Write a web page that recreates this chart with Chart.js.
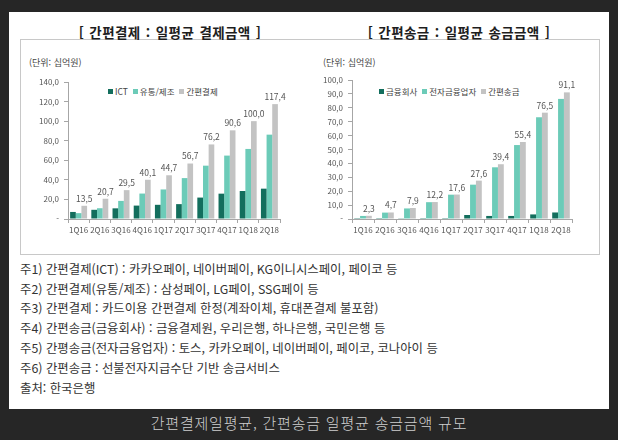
<!DOCTYPE html>
<html lang="ko">
<head>
<meta charset="UTF-8">
<title>간편결제 · 간편송금 일평균 금액</title>
<script src="https://cdn.jsdelivr.net/npm/chart.js@4.4.1/dist/chart.umd.min.js"></script>
<style>
  body { margin:0; width:618px; height:440px; background:#262626; position:relative; overflow:hidden;
         font-family:"Noto Sans CJK KR", "Noto Sans", sans-serif; }
  #panel { position:absolute; left:9px; top:12px; width:600px; height:397px; background:#fff; }
  #box { position:absolute; left:20px; top:39px; width:578px; height:214px; border:1px solid #c8c8c8; }
  .title { position:absolute; top:22px; height:20px; line-height:20px; width:300px; text-align:center;
           font-size:13.5px; font-weight:bold; color:#1e1e1e; letter-spacing:0.4px; word-spacing:1px; }
  .unit { position:absolute; top:56px; font-size:9px; color:#444; line-height:14px; }
  .legend { position:absolute; top:85px; display:flex; gap:5px; font-size:8.5px; color:#444; line-height:12px; }
  .legend span { display:flex; align-items:center; }
  .legend i { display:inline-block; width:5px; height:5px; margin-right:2px; }
  canvas { position:absolute; }
  .note { position:absolute; left:20px; font-size:12.4px; color:#333; line-height:18px; white-space:nowrap; }
  #caption { position:absolute; left:0; width:618px; top:412px; text-align:center; font-size:15px;
             color:#cfcfcf; letter-spacing:0.8px; font-weight:300; }
</style>
</head>
<body>
<div id="panel"></div>
<div id="box"></div>

<div class="title" style="left:20px">[ 간편결제 : 일평균 결제금액 ]</div>
<div class="title" style="left:309px">[ 간편송금 : 일평균 송금금액 ]</div>
<div class="unit" style="left:29px">(단위: 십억원)</div>
<div class="unit" style="left:323px">(단위: 십억원)</div>
<div class="legend" id="legendPay" style="left:108px"></div>
<div class="legend" id="legendTransfer" style="left:379px"></div>

<canvas id="chartPay" width="280" height="210" style="left:20px;top:40px"></canvas>
<canvas id="chartTransfer" width="290" height="210" style="left:305px;top:40px"></canvas>

<div class="note" style="top:260px">주1) 간편결제(ICT) : 카카오페이, 네이버페이, KG이니시스페이, 페이코 등</div>
<div class="note" style="top:280px">주2) 간편결제(유통/제조) : 삼성페이, LG페이, SSG페이 등</div>
<div class="note" style="top:299px">주3) 간편결제 : 카드이용 간편결제 한정(계좌이체, 휴대폰결제 불포함)</div>
<div class="note" style="top:319px">주4) 간편송금(금융회사) : 금융결제원, 우리은행, 하나은행, 국민은행 등</div>
<div class="note" style="top:339px">주5) 간평송금(전자금융업자) : 토스, 카카오페이, 네이버페이, 페이코, 코나아이 등</div>
<div class="note" style="top:359px">주6) 간편송금 : 선불전자지급수단 기반 송금서비스</div>
<div class="note" style="top:379px">출처: 한국은행</div>
<div id="caption">간편결제일평균, 간편송금 일평균 송금금액 규모</div>

<script>
  const quarters = ["1Q16", "2Q16", "3Q16", "4Q16", "1Q17", "2Q17", "3Q17", "4Q17", "1Q18", "2Q18"];

  // 간편결제 (십억원)
  const payNames = ["ICT", "유통/제조", "간편결제"];
  const ictValues = [7.2, 9.4, 10.9, 13.7, 14.5, 15.2, 21.9, 25.9, 28.6, 31.0];
  const retailValues = [6.0, 11.0, 18.5, 26.0, 30.2, 41.8, 54.5, 64.8, 71.6, 86.2];
  const payTotal = [13.5, 20.7, 29.5, 40.1, 44.7, 56.7, 76.2, 90.6, 100.0, 117.4];
  const payMax = 140, payStep = 20;

  // 간편송금 (십억원)
  const transferNames = ["금융회사", "전자금융업자", "간편송금"];
  const bankValues = [0.1, 0.1, 0.2, 0.1, 0.1, 2.9, 2.2, 2.2, 3.3, 4.7];
  const fintechValues = [2.2, 4.6, 7.6, 12.1, 17.5, 24.7, 37.2, 53.2, 73.2, 86.4];
  const transferTotal = [2.3, 4.7, 7.9, 12.2, 17.6, 27.6, 39.4, 55.4, 76.5, 91.1];
  const transferMax = 100, transferStep = 10;

  const colors = ["#136e5d", "#6ccbb8", "#c3c3c3"];
  const axisColor = "#a6a6a6";
  const textColor = "#555";
  const fontFamily = '"Noto Sans CJK KR", "Noto Sans", sans-serif';

  const comma = v => v.toFixed(1).replace(".", ",");

  // 합계 막대 위 숫자
  const totalLabels = {
    id: "totalLabels",
    afterDatasetsDraw(chart) {
      const ctx = chart.ctx;
      const meta = chart.getDatasetMeta(2);
      const vals = chart.data.datasets[2].data;
      ctx.save();
      ctx.font = "8.5px " + fontFamily;
      ctx.fillStyle = textColor;
      ctx.textAlign = "center";
      ctx.textBaseline = "bottom";
      meta.data.forEach((bar, i) => {
        ctx.fillText(comma(vals[i]), bar.x, bar.y - 3);
      });
      ctx.restore();
    }
  };

  function makeLegend(id, names) {
    document.getElementById(id).innerHTML = names
      .map((n, i) => `<span><i style="background:${colors[i]}"></i>${n}</span>`).join("");
  }

  function makeChart(id, series, names, yMax, yStep, pad) {
    return new Chart(document.getElementById(id), {
      type: "bar",
      data: {
        labels: quarters,
        datasets: series.map((d, i) => ({
          label: names[i],
          data: d,
          backgroundColor: colors[i],
          categoryPercentage: 0.8,
          barPercentage: 1.0
        }))
      },
      options: {
        responsive: false,
        animation: false,
        layout: { padding: { top: pad.top, right: pad.right, left: 0, bottom: 0 } },
        plugins: { legend: { display: false }, tooltip: { enabled: false } },
        scales: {
          x: {
            grid: { drawOnChartArea: false, offset: true, tickLength: 4, color: axisColor },
            border: { color: axisColor },
            ticks: { font: { size: 8, family: fontFamily }, color: textColor, padding: 2, maxRotation: 0, autoSkip: false },
            afterFit(s) { s.height = 31; }
          },
          y: {
            min: 0,
            max: yMax,
            grid: { drawOnChartArea: false, tickLength: 4, color: axisColor },
            border: { color: axisColor },
            ticks: {
              stepSize: yStep,
              font: { size: 8, family: fontFamily },
              color: textColor,
              padding: 5,
              callback: v => v === 0 ? "-" : comma(v)
            },
            afterFit(s) { s.width = pad.left; }
          }
        }
      },
      plugins: [totalLabels]
    });
  }

  makeLegend("legendPay", payNames);
  makeLegend("legendTransfer", transferNames);
  makeChart("chartPay", [ictValues, retailValues, payTotal], payNames, payMax, payStep, { top: 42, right: 20, left: 48 });
  makeChart("chartTransfer", [bankValues, fintechValues, transferTotal], transferNames, transferMax, transferStep, { top: 40, right: 23, left: 47 });
</script>
</body>
</html>
